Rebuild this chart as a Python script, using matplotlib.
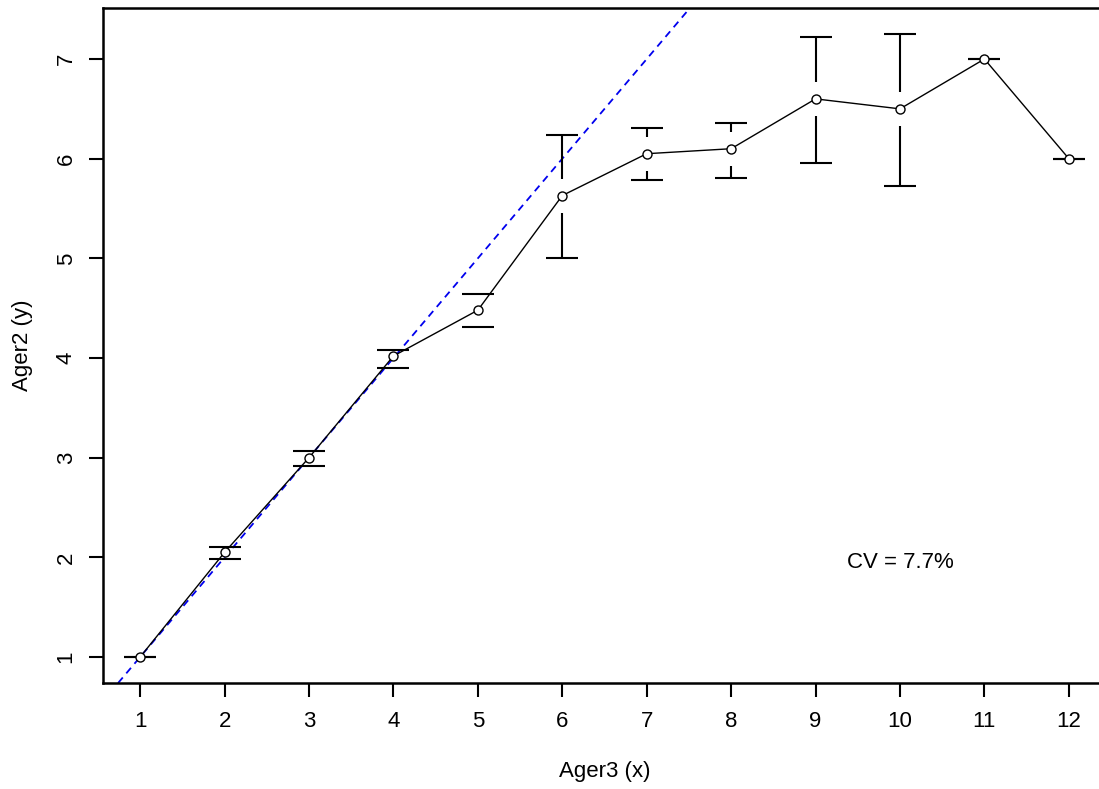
import numpy as np
import matplotlib
matplotlib.use('Agg')
import matplotlib.pyplot as plt

plt.rcParams['font.family'] = ['Liberation Sans', 'DejaVu Sans']

# Ager3 age classes and the mean / range of Ager2 readings for each
ager3 = [1, 2, 3, 4, 5, 6, 7, 8, 9, 10, 11, 12]
ager2_mean = [1.0, 2.05, 3.0, 4.02, 4.48, 5.63, 6.05, 6.10, 6.60, 6.50, 7.0, 6.0]
ager2_low = [1.0, 1.98, 2.92, 3.90, 4.31, 5.0, 5.79, 5.81, 5.96, 5.73, 7.0, 6.0]
ager2_high = [1.0, 2.10, 3.07, 4.08, 4.64, 6.24, 6.31, 6.36, 7.22, 7.25, 7.0, 6.0]
cv_label = 'CV = 7.7%'

fig = plt.figure(figsize=(10.99, 7.89), dpi=100)
ax = fig.add_axes([103 / 1099, 1 - 683 / 789, (1106 - 103) / 1099, (683 - 8) / 789])

ax.set_xlim(0.56, 12.44)
ax.set_ylim(0.739, 7.512)

# one-to-one line
ax.axline((0, 0), slope=1, color='#0000ee', lw=1.3, dashes=(4, 3), zorder=1)

x = np.array(ager3, dtype=float)
m = np.array(ager2_mean)
lo = np.array(ager2_low)
hi = np.array(ager2_high)

# CI bars leave a gap around each point
gap = 0.17
cap = 0.19
for xi, mi, l, h in zip(x, m, lo, hi):
    if h - mi > gap:
        ax.vlines(xi, mi + gap, h, color='black', lw=1.5, zorder=2)
    if mi - l > gap:
        ax.vlines(xi, l, mi - gap, color='black', lw=1.5, zorder=2)
    ax.hlines([l, h], xi - cap, xi + cap, color='black', lw=1.5, zorder=2)

ax.plot(x, m, color='black', lw=1.0, marker='o', ms=6.5, mfc='white',
        mec='black', mew=1.0, zorder=3)

ax.text(10, 1.95, cv_label, ha='center', va='center', fontsize=16)

ax.set_xticks(ager3)
ax.set_yticks([1, 2, 3, 4, 5, 6, 7])
ax.tick_params(axis='both', length=10, width=1.5, labelsize=16, direction='out')
ax.tick_params(axis='x', pad=10)
ax.tick_params(axis='y', pad=9)
for lab in ax.get_yticklabels():
    lab.set_rotation(90)
    lab.set_va('center')

for sp in ax.spines.values():
    sp.set_linewidth(1.8)

ax.set_xlabel('Ager3 (x)', fontsize=16, labelpad=21)
ax.set_ylabel('Ager2 (y)', fontsize=16, labelpad=16)

plt.savefig('out.png', dpi=100)
